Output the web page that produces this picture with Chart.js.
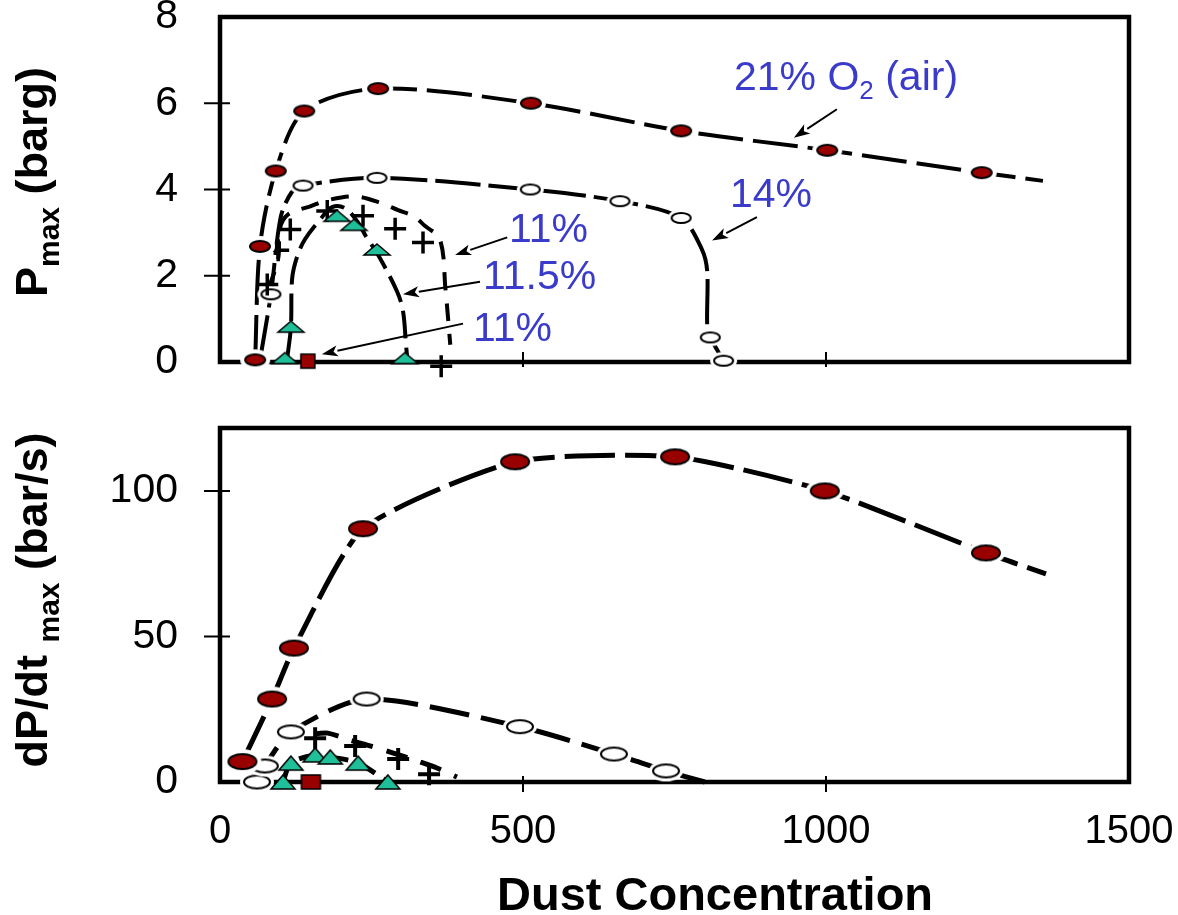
<!DOCTYPE html>
<html>
<head>
<meta charset="utf-8">
<script src="https://cdn.jsdelivr.net/npm/chart.js@4.4.1/dist/chart.umd.min.js"></script>
<style>
  body { margin: 0; background: #fff; }
  #wrap { position: relative; width: 1178px; height: 915px; overflow: hidden;
          font-family: 'Liberation Sans', Arial, sans-serif; }
  canvas { position: absolute; left: 0; }
  .note { position: absolute; white-space: nowrap; color: #3b3bcb; font-size: 41px; line-height: 41px; }
  .ytitle { position: absolute; white-space: nowrap; font-weight: bold; font-size: 45px; line-height: 45px;
            transform: translate(-50%, -50%) rotate(-90deg); }
  .xtitle { position: absolute; white-space: nowrap; font-weight: bold; font-size: 47px; line-height: 47px; }
  .sub { position: relative; }
</style>
</head>
<body>
<div id="wrap">
  <canvas id="pmaxChart" width="1178" height="400" style="top:0"></canvas>
  <canvas id="rateChart" width="1178" height="515" style="top:400px"></canvas>

  <div class="ytitle" style="left:34px; top:182px">P<span class="sub" style="font-size:30px; top:12px">max</span> (barg)</div>
  <div class="ytitle" style="left:34px; top:600px">dP/dt <span class="sub" style="font-size:30px; top:12px">max</span> (bar/s)</div>
  <div class="xtitle" style="left:497px; top:870px">Dust Concentration</div>

  <div class="note" style="left:734px; top:56px">21% O<span class="sub" style="font-size:26px; top:9px">2</span> (air)</div>
  <div class="note" style="left:730px; top:173px">14%</div>
  <div class="note" style="left:509px; top:208px">11%</div>
  <div class="note" style="left:483px; top:255px">11.5%</div>
  <div class="note" style="left:473px; top:307px">11%</div>
</div>

<script>
// ---- Pmax (top panel) ----
const air21TopX = [58, 66, 92, 139, 261, 513, 761, 1002, 1257];
const air21TopY = [0.05, 2.68, 4.43, 5.82, 6.34, 6.0, 5.36, 4.91, 4.39];
const air21TopTailX = [1358];
const air21TopTailY = [4.2];

const o14TopX = [84, 137, 259, 512, 660, 761, 809, 831];
const o14TopY = [1.57, 4.09, 4.27, 4.0, 3.73, 3.34, 0.57, 0.03];
const o14TopCurveX = [66, 84, 100, 118, 137, 259, 512, 660, 761, 795, 804, 804, 809, 831];
const o14TopCurveY = [0.05, 1.57, 3.35, 3.93, 4.09, 4.27, 4.0, 3.73, 3.34, 2.62, 2.1, 0.85, 0.57, 0.03];

const plus11TopX = [78, 96, 116, 177, 236, 289, 335, 365];
const plus11TopY = [1.8, 2.59, 3.07, 3.5, 3.39, 3.09, 2.77, -0.1];
const plus11TopCurveX = [80, 96, 99, 112, 149, 177, 223, 267, 294, 318, 338, 363, 372, 380];
const plus11TopCurveY = [1.7, 2.4, 3.1, 3.42, 3.61, 3.75, 3.84, 3.68, 3.52, 3.39, 3.16, 2.84, 1.7, 0.4];

const tri115TopX = [107, 117, 193, 221, 259, 305];
const tri115TopY = [0.09, 0.82, 3.39, 3.18, 2.61, 0.09];
const tri115TopCurveX = [111, 117, 119, 127, 140, 165, 185, 206, 228, 241, 261, 292, 302, 307, 309];
const tri115TopCurveY = [0.09, 0.82, 1.93, 2.43, 2.84, 3.3, 3.59, 3.57, 3.23, 2.91, 2.48, 1.64, 1.18, 0.39, 0.09];

const sq11TopX = [145];
const sq11TopY = [0.02];

// ---- dP/dt max (bottom panel) ----
const air21BotX = [37, 86, 122, 236, 487, 751, 998, 1264];
const air21BotY = [7, 28.5, 46, 87, 110, 111.7, 100, 78.7];
const air21BotTailX = [1363];
const air21BotTailY = [71.5];

const o14BotX = [61, 74, 117, 242, 495, 650, 736];
const o14BotY = [0, 5.5, 17.2, 28.5, 19, 9.6, 3.8];
const o14BotTailX = [800];
const o14BotTailY = [0];

const plus11BotX = [157, 223, 294, 345];
const plus11BotY = [15, 12.4, 7.9, 2.7];
const plus11BotCurveX = [160, 178, 214, 243, 281, 330, 358, 391];
const plus11BotCurveY = [16.6, 16.8, 14.4, 12.7, 10.3, 6.9, 4.8, 1.7];

const tri115BotX = [104, 117, 157, 182, 228, 277];
const tri115BotY = [0, 6.5, 9.3, 8.6, 6.5, 0];

const sq11BotX = [150];
const sq11BotY = [0];

const dustTicks = [0, 500, 1000, 1500];

// annotation arrows on the Pmax panel, [x, y] in data units
const arrowTails = [[1018, 5.86], [886, 3.36], [474, 2.89], [429, 1.86], [401, 0.89]];
const arrowHeads = [[947, 5.2], [812, 2.82], [388, 2.48], [302, 1.57], [168, 0.18]];

const RED = '#990000';
const TEAL = '#1fbf9a';
const FONT = "'Liberation Sans', Arial, sans-serif";

function ellipseMark(w, h, fill, halo) {
  const c = document.createElement('canvas');
  c.width = w + 2 * halo + 4; c.height = h + 2 * halo + 4;
  const g = c.getContext('2d');
  const cx = c.width / 2, cy = c.height / 2;
  g.fillStyle = '#fff';
  g.beginPath(); g.ellipse(cx, cy, w / 2 + halo, h / 2 + halo, 0, 0, Math.PI * 2); g.fill();
  g.beginPath(); g.ellipse(cx, cy, w / 2 - 1, h / 2 - 1, 0, 0, Math.PI * 2);
  g.fillStyle = fill; g.fill();
  g.lineWidth = 2; g.strokeStyle = '#000'; g.stroke();
  return c;
}
function triMark(w, h) {
  const c = document.createElement('canvas');
  c.width = w + 4; c.height = h + 4;
  const g = c.getContext('2d');
  g.beginPath(); g.moveTo(c.width / 2, 2); g.lineTo(w + 2, h + 2); g.lineTo(2, h + 2); g.closePath();
  g.fillStyle = TEAL; g.fill();
  g.lineWidth = 1.5; g.strokeStyle = '#000'; g.stroke();
  return c;
}
function rectMark(w, h) {
  const c = document.createElement('canvas');
  c.width = w + 4; c.height = h + 4;
  const g = c.getContext('2d');
  g.fillStyle = RED; g.fillRect(2, 2, w, h);
  g.lineWidth = 1.5; g.strokeStyle = '#000'; g.strokeRect(2, 2, w, h);
  return c;
}

const pts = (xs, ys) => xs.map((x, i) => ({ x: x, y: ys[i] }));

function marks(xs, ys, style) {
  return { data: pts(xs, ys), showLine: false, pointStyle: style, pointRadius: 12, clip: false };
}
function plusMarks(xs, ys, w) {
  return { data: pts(xs, ys), showLine: false, pointStyle: 'cross', pointRadius: 11,
           pointBorderWidth: w, pointBorderColor: '#000', borderColor: '#000', clip: false };
}
function curve(xs, ys, width, dash, tension) {
  return { data: pts(xs, ys), showLine: true, pointRadius: 0, borderColor: '#000', borderWidth: width,
           borderDash: dash, borderCapStyle: 'butt', tension: tension, fill: false, clip: false };
}

function framePlugin(xIn, xOut) {
  return {
    id: 'frame',
    beforeDatasetsDraw(chart) {
      const { ctx, chartArea: a, scales } = chart;
      ctx.save();
      ctx.strokeStyle = '#000';
      ctx.lineWidth = 2;
      ctx.beginPath();
      scales.y.ticks.forEach(t => {
        if (t.value <= scales.y.min || t.value >= scales.y.max) return;
        const py = scales.y.getPixelForValue(t.value);
        ctx.moveTo(a.left - 16, py); ctx.lineTo(a.left + 10, py);
      });
      scales.x.ticks.forEach(t => {
        if (t.value <= scales.x.min || t.value >= scales.x.max) return;
        const px = scales.x.getPixelForValue(t.value);
        ctx.moveTo(px, a.bottom - xIn); ctx.lineTo(px, a.bottom + xOut);
      });
      ctx.stroke();
      ctx.lineWidth = 4.5;
      ctx.strokeRect(a.left, a.top, a.right - a.left, a.bottom - a.top);
      ctx.restore();
    }
  };
}

const arrowPlugin = {
  id: 'arrows',
  afterDatasetsDraw(chart) {
    const { ctx, scales } = chart;
    ctx.save();
    ctx.strokeStyle = '#000'; ctx.fillStyle = '#000'; ctx.lineWidth = 2;
    arrowTails.forEach((t, i) => {
      const x0 = scales.x.getPixelForValue(t[0]), y0 = scales.y.getPixelForValue(t[1]);
      const x1 = scales.x.getPixelForValue(arrowHeads[i][0]), y1 = scales.y.getPixelForValue(arrowHeads[i][1]);
      const ang = Math.atan2(y1 - y0, x1 - x0);
      const len = 16, half = 5.5;
      const bx = x1 - len * Math.cos(ang), by = y1 - len * Math.sin(ang);
      ctx.beginPath(); ctx.moveTo(x0, y0); ctx.lineTo(bx, by); ctx.stroke();
      ctx.beginPath();
      ctx.moveTo(x1, y1);
      ctx.lineTo(bx + half * Math.sin(ang), by - half * Math.cos(ang));
      ctx.lineTo(bx + len * 0.25 * Math.cos(ang), by + len * 0.25 * Math.sin(ang));
      ctx.lineTo(bx - half * Math.sin(ang), by + half * Math.cos(ang));
      ctx.closePath(); ctx.fill();
    });
    ctx.restore();
  }
};

function panelOptions(yMax, yStep, showX, xHeight, padTop) {
  return {
    responsive: false, animation: false, events: [], devicePixelRatio: 1,
    layout: { padding: { top: padTop, right: 49, left: 0, bottom: 0 } },
    plugins: { legend: { display: false }, tooltip: { enabled: false } },
    scales: {
      x: {
        type: 'linear', min: 0, max: 1500,
        afterBuildTicks: s => { s.ticks = dustTicks.map(v => ({ value: v })); },
        ticks: { display: showX, font: { family: FONT, size: 40, lineHeight: 1 }, color: '#000', padding: 0,
                 maxRotation: 0, autoSkip: false, callback: v => String(v) },
        grid: { display: false, drawTicks: true, tickLength: 30 },
        border: { display: false },
        afterFit: s => { s.height = xHeight; }
      },
      y: {
        type: 'linear', min: 0, max: yMax,
        ticks: { stepSize: yStep, includeBounds: false, font: { family: FONT, size: 41, lineHeight: 0.8 },
                 color: '#000', padding: 0 },
        grid: { display: false, drawTicks: true, tickLength: 42 },
        border: { display: false },
        afterFit: s => { s.width = 220; }
      }
    }
  };
}

new Chart(document.getElementById('pmaxChart'), {
  type: 'scatter',
  data: {
    datasets: [
      marks(air21TopX, air21TopY, ellipseMark(22, 13, RED, 4)),
      marks(sq11TopX, sq11TopY, rectMark(14, 14)),
      marks(tri115TopX, tri115TopY, triMark(26, 11)),
      plusMarks(plus11TopX, plus11TopY, 3.5),
      marks(o14TopX, o14TopY, ellipseMark(21, 12, '#fff', 3)),
      curve(air21TopX.concat(air21TopTailX), air21TopY.concat(air21TopTailY), 4, [45, 10], 0.3),
      curve(o14TopCurveX, o14TopCurveY, 4, [45, 8], 0.3),
      curve(plus11TopCurveX, plus11TopCurveY, 4, [18, 13], 0.35),
      curve(tri115TopCurveX, tri115TopCurveY, 4, [28, 9], 0.35)
    ]
  },
  options: panelOptions(8, 2, false, 38, 17),
  plugins: [framePlugin(10, 5), arrowPlugin]
});

new Chart(document.getElementById('rateChart'), {
  type: 'scatter',
  data: {
    datasets: [
      marks(air21BotX, air21BotY, ellipseMark(30, 17, RED, 4)),
      marks(sq11BotX, sq11BotY, rectMark(19, 14)),
      marks(tri115BotX, tri115BotY, triMark(24, 14)),
      plusMarks(plus11BotX, plus11BotY, 4),
      marks(o14BotX, o14BotY, ellipseMark(28, 15, '#fff', 3)),
      curve(air21BotX.concat(air21BotTailX), air21BotY.concat(air21BotTailY), 5, [50, 10], 0.2),
      curve(o14BotX.concat(o14BotTailX), o14BotY.concat(o14BotTailY), 5, [40, 12], 0.25),
      curve(plus11BotCurveX, plus11BotCurveY, 5, [22, 14], 0.3),
      curve(tri115BotX, tri115BotY, 5, [20, 10], 0.3)
    ]
  },
  options: panelOptions(121.6, 50, true, 133, 28),
  plugins: [framePlugin(6, 10)]
});
</script>
</body>
</html>
